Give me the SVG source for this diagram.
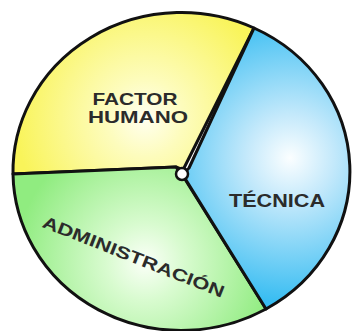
<svg xmlns="http://www.w3.org/2000/svg" width="352" height="331" viewBox="0 0 352 331">
<defs>
<radialGradient id="gy" gradientUnits="userSpaceOnUse" cx="145" cy="118" r="130">
<stop offset="0" stop-color="#fffff0"/>
<stop offset="0.3" stop-color="#fdfcbc"/>
<stop offset="1" stop-color="#f9f45a"/>
</radialGradient>
<radialGradient id="gg" gradientUnits="userSpaceOnUse" cx="145" cy="262" r="130">
<stop offset="0" stop-color="#fbfff8"/>
<stop offset="0.3" stop-color="#d8fbcf"/>
<stop offset="1" stop-color="#90ec80"/>
</radialGradient>
<radialGradient id="gb" gradientUnits="userSpaceOnUse" cx="290" cy="158" r="145">
<stop offset="0" stop-color="#fbfeff"/>
<stop offset="0.3" stop-color="#c4e9fb"/>
<stop offset="1" stop-color="#38bdf2"/>
</radialGradient>
<style>
.sl{stroke:#111;stroke-width:3;stroke-linejoin:round}
.t{font-family:"Liberation Sans",Arial,sans-serif;font-weight:bold;fill:#2b2b2b}
</style>
</defs>
<g id="factor-humano">
<path class="sl" fill="url(#gy)" d="M183,170 L176,167 L13,174 A168.5 159 0 0 1 254,28 Z"/>
<text class="t" x="135" y="104.5" font-size="16.5" text-anchor="middle" textLength="85" lengthAdjust="spacingAndGlyphs">FACTOR</text>
<text class="t" x="138" y="122.5" font-size="16.5" text-anchor="middle" textLength="100" lengthAdjust="spacingAndGlyphs">HUMANO</text>
</g>
<g id="administracion">
<path class="sl" fill="url(#gg)" d="M183,176 L176,167 L13,174 A168.5 159 0 0 0 266,309 Z"/>
<text class="t" x="43" y="222" font-size="17" transform="rotate(21.5 43 222)" textLength="194" lengthAdjust="spacingAndGlyphs" dy="5">ADMINISTRACIÓN</text>
</g>
<g id="tecnica">
<path class="sl" fill="url(#gb)" d="M183,174 L189,168 L254,28 A168.5 159 0 0 1 266,309 L186,180 Z"/>
<text class="t" x="277" y="207" font-size="18" text-anchor="middle" textLength="96" lengthAdjust="spacingAndGlyphs">TÉCNICA</text>
</g>
<g id="connectors">
<circle cx="182" cy="174" r="6" fill="#ffffff" stroke="#111" stroke-width="2.5"/>
</g>
</svg>
